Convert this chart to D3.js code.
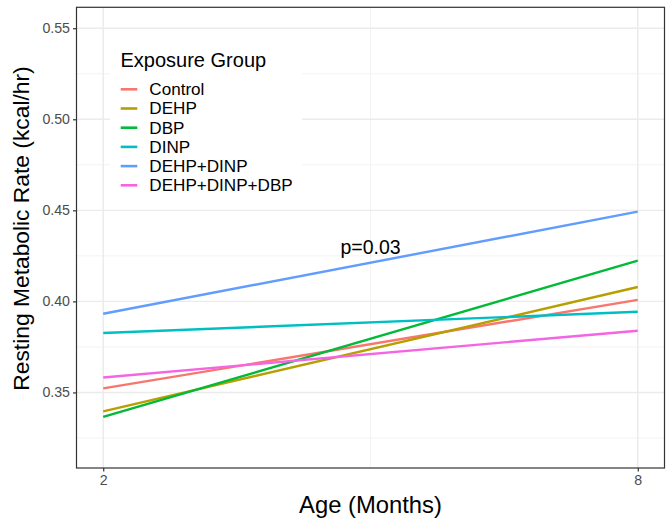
<!DOCTYPE html>
<html><head><meta charset="utf-8">
<script src="https://cdn.jsdelivr.net/npm/d3@7"></script>
<style>body{margin:0;background:#fff}svg{display:block}text{font-family:"Liberation Sans",Arial,Helvetica,sans-serif}</style>
</head><body><svg id="c" width="667" height="522"></svg>
<script>
const groups = ["Control","DEHP","DBP","DINP","DEHP+DINP","DEHP+DINP+DBP"];
const colors = ["#F8766D","#B79F00","#00BA38","#00BFC4","#619CFF","#F564E3"];
const ages = [2, 8];
const startValues = [0.3522, 0.3396, 0.3366, 0.3826, 0.3932, 0.3582];
const endValues   = [0.4008, 0.4079, 0.4224, 0.3943, 0.4493, 0.3839];
const yTicks = [0.35, 0.40, 0.45, 0.50, 0.55];
const yMinor = [0.325, 0.375, 0.425, 0.475, 0.525];
const xTicks = [2, 8];
const xMinor = [5];
const annotation = {x: 5, y: 0.43, label: "p=0.03"};

const svg = d3.select("#c");
const L = 76.5, R = 664.5, T = 7.3, B = 468;
const x = d3.scaleLinear().domain([1.7, 8.3]).range([L, R]);
const y = d3.scaleLinear().domain([0.3085, 0.5615]).range([B, T]);

const g = svg.append("g");
g.selectAll(".ym").data(yMinor).join("line").attr("x1",L).attr("x2",R)
  .attr("y1",d=>y(d)).attr("y2",d=>y(d)).attr("stroke","#F3F3F3").attr("stroke-width",1);
g.selectAll(".xm").data(xMinor).join("line").attr("y1",T).attr("y2",B)
  .attr("x1",d=>x(d)).attr("x2",d=>x(d)).attr("stroke","#F3F3F3").attr("stroke-width",1);
g.selectAll(".yM").data(yTicks).join("line").attr("x1",L).attr("x2",R)
  .attr("y1",d=>y(d)).attr("y2",d=>y(d)).attr("stroke","#EBEBEB").attr("stroke-width",1.4);
g.selectAll(".xM").data(xTicks).join("line").attr("y1",T).attr("y2",B)
  .attr("x1",d=>x(d)).attr("x2",d=>x(d)).attr("stroke","#EBEBEB").attr("stroke-width",1.4);

const line = d3.line().x(d=>x(d[0])).y(d=>y(d[1]));
groups.forEach((grp,i)=>{
  const pts = [[ages[0], startValues[i]], [ages[1], endValues[i]]];
  g.append("path").datum(pts).attr("d", line).attr("fill","none")
    .attr("stroke", colors[i]).attr("stroke-width", 2.4);
});

svg.append("text").attr("x", x(annotation.x)).attr("y", y(annotation.y)+7)
  .attr("text-anchor","middle").attr("font-size",19.5).attr("fill","#000").text(annotation.label);

const lg = svg.append("g");
lg.append("rect").attr("x",110).attr("y",42).attr("width",192).attr("height",158).attr("fill","#fff");
lg.append("text").attr("x",120.5).attr("y",66.7).attr("font-size",20).attr("fill","#000").text("Exposure Group");
groups.forEach((grp,i)=>{
  const yy = 89.3 + i*19.2;
  lg.append("line").attr("x1",120.7).attr("x2",137.3).attr("y1",yy).attr("y2",yy)
    .attr("stroke",colors[i]).attr("stroke-width",2.6);
  lg.append("text").attr("x",149.3).attr("y",yy+5.9).attr("font-size",17.1).attr("fill","#000").text(grp);
});

svg.append("rect").attr("x",L).attr("y",T).attr("width",R-L).attr("height",B-T)
  .attr("fill","none").attr("stroke","#333333").attr("stroke-width",1.2);

const ya = svg.append("g").attr("transform",`translate(${L},0)`)
  .call(d3.axisLeft(y).tickValues(yTicks).tickFormat(d3.format(".2f")).tickSize(3.5).tickPadding(3));
const xa = svg.append("g").attr("transform",`translate(0,${B})`)
  .call(d3.axisBottom(x).tickValues(xTicks).tickFormat(d3.format("d")).tickSize(3.5).tickPadding(3));
[ya, xa].forEach(a=>{
  a.select(".domain").remove();
  a.selectAll(".tick line").attr("stroke","#333333").attr("stroke-width",1.2);
  a.selectAll(".tick text").attr("fill","#4D4D4D").attr("font-size",14.2)
    .attr("font-family",'"Liberation Sans",Arial,sans-serif');
});

svg.append("text").attr("x", x(5)).attr("y", 513.3).attr("text-anchor","middle")
  .attr("font-size",23.8).attr("fill","#000").text("Age (Months)");
svg.append("text").attr("transform","translate(29,228.5) rotate(-90)").attr("text-anchor","middle")
  .attr("font-size",22.8).attr("fill","#000").text("Resting Metabolic Rate (kcal/hr)");
</script></body></html>
